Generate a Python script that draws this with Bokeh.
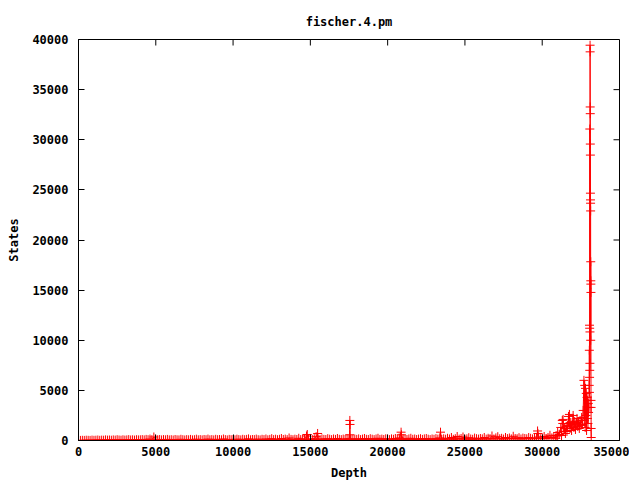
from bokeh.plotting import figure
from bokeh.models import Range1d, FixedTicker
from bokeh.embed import file_html
from bokeh.resources import INLINE
import math

title = "fischer.4.pm"
x_label = "Depth"
y_label = "States"
x_ticks = [0, 5000, 10000, 15000, 20000, 25000, 30000, 35000]
y_ticks = [0, 5000, 10000, 15000, 20000, 25000, 30000, 35000, 40000]

# background band: one reading every 125 depth steps, rows of 2000 depth
base_start = 0
base_step = 125
base_states = [
    0, 10, 20, 10, 30, 20, 10, 40, 20, 30, 50, 20, 40, 30, 60, 40,
    50, 30, 60, 40, 80, 50, 30, 70, 40, 60, 90, 50, 70, 40, 80, 60,
    70, 90, 60, 110, 80, 140, 90, 350, 120, 80, 100, 60, 90, 70, 110, 60,
    80, 50, 100, 70, 60, 120, 80, 50, 90, 70, 110, 60, 80, 130, 70, 90,
    60, 100, 80, 140, 70, 90, 60, 120, 80, 100, 70, 150, 90, 60, 110, 80,
    100, 70, 130, 90, 60, 120, 80, 110, 160, 70, 100, 90, 140, 80, 60, 120,
    90, 150, 70, 110, 180, 90, 130, 80, 120, 200, 100, 140, 90, 250, 110, 80,
    130, 100, 220, 90, 160, 120, 450, 100, 140, 110, 180, 380, 120, 90, 160, 110,
    100, 180, 130, 90, 150, 110, 200, 120, 90, 140, 100, 170, 130, 90, 120, 150,
    110, 160, 90, 140, 200, 120, 100, 180, 130, 90, 150, 220, 110, 140, 100, 170,
    130, 90, 160, 120, 200, 140, 250, 110, 180, 130, 100, 160, 220, 120, 150, 100,
    140, 180, 110, 160, 200, 130, 90, 150, 120, 190, 140, 260, 110, 170, 130, 220,
    150, 300, 120, 180, 400, 140, 200, 350, 130, 170, 280, 150, 120, 240, 180, 140,
    200, 160, 300, 140, 220, 180, 450, 150, 260, 380, 170, 220, 140, 300, 190, 250,
    160, 420, 200, 180, 280, 150, 240, 200, 170, 300, 220, 160, 260, 210, 350, 180,
    250, 400, 200, 300, 520, 260, 350, 220, 450,
]
base_depth = [base_start + i * base_step for i in range(len(base_states))]

# notable readings (isolated bumps, the ramp and the final spike)
peak_depth = [
    14800, 15470, 17540, 17555, 17565, 17580, 20870, 20890, 23420,
    29700, 29720,
    30900, 31000, 31100, 31200, 31250, 31300, 31330, 31350, 31400, 31450,
    31500, 31550, 31600, 31650, 31700, 31730, 31760, 31800, 31850, 31900,
    31950, 32000, 32050, 32100, 32150, 32200, 32250, 32300, 32350, 32400,
    32450, 32500, 32550, 32600,
    32650, 32700, 32720, 32750, 32780, 32800, 32830, 32850, 32870, 32900,
    32920, 32940, 32960, 32980, 33000, 33020,
    33040, 33050, 33055, 33060, 33065, 33070, 33075, 33080, 33085, 33090,
    33096, 33100, 33104, 33108, 33112, 33116, 33120, 33124, 33128, 33132,
    33136, 33140, 33144, 33148, 33152, 33156, 33160, 33165, 33170,
]
peak_states = [
    600, 700, 570, 2000, 1600, 150, 830, 570, 830,
    950, 700,
    500, 800, 600, 1300, 500, 2000, 1700, 2100, 900, 1200,
    700, 1400, 900, 1500, 2400, 1700, 2600, 1200, 1800, 1000,
    1600, 2500, 1300, 1900, 1100, 1700, 2200, 1400, 1800, 1200,
    2000, 1500, 2300, 1600,
    3000, 6000, 2000, 5500, 1300, 5200, 2500, 4700, 1000, 4300,
    2200, 4000, 1700, 3700, 2800, 3300,
    5500, 9000, 4800, 11500, 6300, 11200, 7000, 31070, 7700, 10830,
    39430, 38770, 33270, 32600, 29570, 28470, 24670, 24000, 23670, 22900,
    10000, 17830, 15930, 15600, 14770, 4000, 3300, 1200, 300,
]

pairs = sorted(zip(base_depth + peak_depth, base_states + peak_states))
depth = [d for d, s in pairs]
states = [s for d, s in pairs]

FONT = "DejaVu Sans Mono"

p = figure(frame_width=541, frame_height=401, output_backend="svg",
           toolbar_location=None,
           x_range=Range1d(0, 35000), y_range=Range1d(0, 40000),
           min_border_left=78, min_border_right=10, min_border_top=39,
           min_border_bottom=10)

p.title.text = title
p.title.align = "center"
p.title.text_font = FONT
p.title.text_font_size = "12px"
p.title.text_font_style = "bold"
p.title.text_color = "black"
p.title.standoff = 21

p.grid.visible = False
p.outline_line_color = "black"
p.outline_line_width = 1
p.background_fill_color = "white"
p.border_fill_color = "white"

for ax, ticks in ((p.xaxis[0], x_ticks), (p.yaxis[0], y_ticks)):
    ax.ticker = FixedTicker(ticks=ticks)
    ax.major_tick_in = 6
    ax.major_tick_out = 0
    ax.minor_tick_line_color = None
    ax.axis_line_color = "black"
    ax.major_tick_line_color = "black"
    ax.major_label_text_font = FONT
    ax.major_label_text_font_size = "12px"
    ax.major_label_text_font_style = "bold"
    ax.major_label_text_color = "black"
    ax.axis_label_text_font = FONT
    ax.axis_label_text_font_size = "12px"
    ax.axis_label_text_font_style = "bold"
    ax.axis_label_text_color = "black"

p.xaxis.axis_label = x_label
p.yaxis.axis_label = y_label
p.xaxis.major_label_standoff = 6
p.xaxis.axis_label_standoff = 7
p.yaxis.major_label_standoff = 10
p.yaxis.axis_label_standoff = 8

# mirrored inward ticks on the top and right edges
p.ray(x=x_ticks, y=[40000] * len(x_ticks), length=6, length_units="screen",
      angle=-math.pi / 2, line_color="black", line_width=1)
p.ray(x=[35000] * len(y_ticks), y=y_ticks, length=6, length_units="screen",
      angle=math.pi, line_color="black", line_width=1)

p.line(depth, states, line_color="#ff0000", line_width=1)
p.scatter(depth, states, marker="cross", size=9, line_color="#ff0000",
          line_width=1)

open("out.html", "w").write(file_html(p, INLINE))
